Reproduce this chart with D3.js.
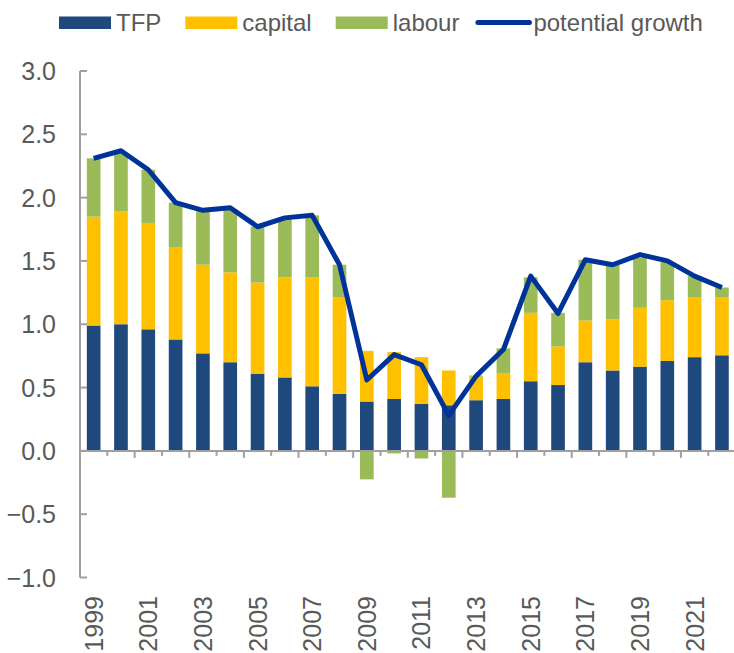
<!DOCTYPE html>
<html lang="en">
<head>
<meta charset="utf-8">
<title>Potential growth decomposition</title>
<script src="https://d3js.org/d3.v7.min.js"></script>
<style>
body { margin: 0; background: #fff; }
svg text { font-family: "Liberation Sans", Arial, sans-serif; fill: #595959; }
</style>
</head>
<body>
<div id="chart"></div>
<script>
// data
var years = d3.range(1999, 2023);
var tfp = [0.99, 1.00, 0.96, 0.88, 0.77, 0.70, 0.61, 0.58, 0.51, 0.45, 0.39, 0.41,
           0.37, 0.36, 0.40, 0.41, 0.55, 0.52, 0.70, 0.635, 0.665, 0.71, 0.74, 0.755];
var capital = [0.86, 0.89, 0.84, 0.73, 0.70, 0.71, 0.72, 0.79, 0.86, 0.76, 0.40, 0.37,
               0.37, 0.275, 0.185, 0.20, 0.54, 0.305, 0.33, 0.405, 0.465, 0.48, 0.47, 0.46];
var labour = [0.46, 0.46, 0.42, 0.35, 0.43, 0.50, 0.44, 0.46, 0.49, 0.26, -0.225, -0.02,
              -0.06, -0.37, 0.01, 0.20, 0.28, 0.265, 0.48, 0.43, 0.395, 0.30, 0.17, 0.075];
var potential = [2.31, 2.37, 2.22, 1.96, 1.90, 1.92, 1.77, 1.84, 1.86, 1.47, 0.56, 0.76,
                 0.68, 0.28, 0.59, 0.80, 1.38, 1.085, 1.51, 1.47, 1.55, 1.50, 1.38, 1.29];
var yTicks = [-1.0, -0.5, 0.0, 0.5, 1.0, 1.5, 2.0, 2.5, 3.0];
var keys = ["TFP", "capital", "labour"];
var colors = { "TFP": "#1f497d", "capital": "#ffc000", "labour": "#9bbb59" };
var lineColor = "#003399";
var axisColor = "#a0a0a0";

var W = 734, H = 653;
var plotLeft = 80, plotRight = 735.6, plotTop = 71, plotBottom = 577.5;

var svg = d3.select("#chart").append("svg")
  .attr("width", W).attr("height", H);

var rows = years.map(function(yr, i) {
  return { year: yr, TFP: tfp[i], capital: capital[i], labour: labour[i], potential: potential[i] };
});

var x = d3.scaleBand()
  .domain(years)
  .range([plotLeft, plotRight])
  .paddingInner(0.5)
  .paddingOuter(0.25);

var y = d3.scaleLinear().domain([-1, 3]).range([plotBottom, plotTop]);

var series = d3.stack().keys(keys).offset(d3.stackOffsetDiverging)(rows);

// bars
svg.append("g").selectAll("g")
  .data(series).enter()
  .append("g")
    .attr("fill", function(d) { return colors[d.key]; })
  .selectAll("rect")
  .data(function(d) { return d; }).enter()
  .append("rect")
    .attr("x", function(d) { return x(d.data.year); })
    .attr("width", x.bandwidth())
    .attr("y", function(d) { return y(Math.max(d[0], d[1])); })
    .attr("height", function(d) { return Math.abs(y(d[0]) - y(d[1])); });

// y axis
var yAxis = svg.append("g").attr("transform", "translate(" + plotLeft + ",0)");
yAxis.append("line")
  .attr("y1", y(3)).attr("y2", y(-1))
  .attr("stroke", axisColor).attr("stroke-width", 2);
yAxis.selectAll(".tk").data(yTicks).enter()
  .append("line")
    .attr("x1", 0).attr("x2", 7)
    .attr("y1", function(d) { return y(d); })
    .attr("y2", function(d) { return y(d); })
    .attr("stroke", axisColor).attr("stroke-width", 2);
yAxis.selectAll(".lb").data(yTicks).enter()
  .append("text")
    .attr("x", -24)
    .attr("y", function(d) { return y(d); })
    .attr("dy", "0.36em")
    .attr("text-anchor", "end")
    .style("font-size", "25px")
    .text(function(d) { return d3.format(".1f")(d); });

// x axis at zero
var step = x.step();
var xAxis = svg.append("g").attr("transform", "translate(0," + y(0) + ")");
xAxis.append("line")
  .attr("x1", plotLeft - 1).attr("x2", plotRight)
  .attr("stroke", axisColor).attr("stroke-width", 2);
xAxis.selectAll(".tk").data(d3.range(1, years.length + 1)).enter()
  .append("line")
    .attr("x1", function(k) { return plotLeft + k * step; })
    .attr("x2", function(k) { return plotLeft + k * step; })
    .attr("y1", 0)
    .attr("y2", function(k) { return k % 2 === 0 ? 7 : 5; })
    .attr("stroke", axisColor).attr("stroke-width", 2);

// year labels at the bottom, every second year
svg.append("g").selectAll("text")
  .data(years.filter(function(d, i) { return i % 2 === 0; })).enter()
  .append("text")
    .attr("transform", function(d) {
      return "translate(" + (x(d) + x.bandwidth() / 2) + ",596) rotate(-90)";
    })
    .attr("dy", "0.36em")
    .attr("text-anchor", "end")
    .style("font-size", "25px")
    .text(function(d) { return d; });

// potential growth line
svg.append("path")
  .datum(rows)
  .attr("fill", "none")
  .attr("stroke", lineColor)
  .attr("stroke-width", 5)
  .attr("stroke-linejoin", "round")
  .attr("d", d3.line()
    .x(function(d) { return x(d.year) + x.bandwidth() / 2; })
    .y(function(d) { return y(d.potential); }));

// legend
var legendItems = keys.concat(["potential growth"]);
var legend = svg.append("g");
var lx = 59;
legendItems.forEach(function(name, i) {
  var g = legend.append("g");
  if (i < 3) {
    g.append("rect")
      .attr("x", lx).attr("y", 16.5)
      .attr("width", 52).attr("height", 12.5)
      .attr("fill", colors[name]);
  } else {
    g.append("line")
      .attr("x1", lx + 2.5).attr("x2", lx + 54)
      .attr("y1", 22.5).attr("y2", 22.5)
      .attr("stroke", lineColor).attr("stroke-width", 5)
      .attr("stroke-linecap", "round");
  }
  var t = g.append("text")
    .attr("x", lx + (i < 3 ? 57 : 58))
    .attr("y", 30.5)
    .style("font-size", "24px")
    .text(name);
  lx = lx + (i < 3 ? 57 : 58) + t.node().getComputedTextLength() + (i < 2 ? 24 : 16);
});
</script>
</body>
</html>
